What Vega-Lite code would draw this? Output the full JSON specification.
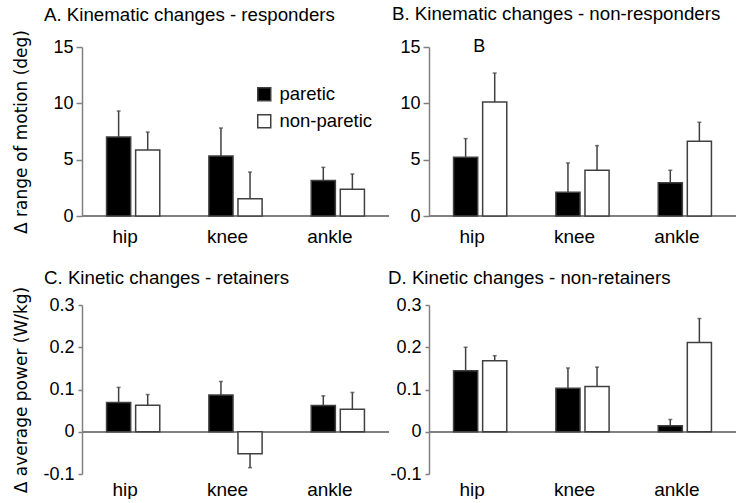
{
  "$schema": "https://vega.github.io/schema/vega-lite/v6.json",
  "padding": {"left": 11, "top": 5, "right": 0, "bottom": 0},
  "background": "white",
  "datasets": {
    "d": [
      {"panel": "A", "joint": "hip", "side": "paretic", "value": 7.01, "err": 9.32},
      {"panel": "A", "joint": "hip", "side": "non-paretic", "value": 5.86, "err": 7.45},
      {"panel": "A", "joint": "knee", "side": "paretic", "value": 5.32, "err": 7.81},
      {"panel": "A", "joint": "knee", "side": "non-paretic", "value": 1.54, "err": 3.9},
      {"panel": "A", "joint": "ankle", "side": "paretic", "value": 3.14, "err": 4.32},
      {"panel": "A", "joint": "ankle", "side": "non-paretic", "value": 2.37, "err": 3.73},
      {"panel": "B", "joint": "hip", "side": "paretic", "value": 5.21, "err": 6.87},
      {"panel": "B", "joint": "hip", "side": "non-paretic", "value": 10.12, "err": 12.69},
      {"panel": "B", "joint": "knee", "side": "paretic", "value": 2.1, "err": 4.71},
      {"panel": "B", "joint": "knee", "side": "non-paretic", "value": 4.06, "err": 6.25},
      {"panel": "B", "joint": "ankle", "side": "paretic", "value": 2.96, "err": 4.06},
      {"panel": "B", "joint": "ankle", "side": "non-paretic", "value": 6.63, "err": 8.32},
      {"panel": "C", "joint": "hip", "side": "paretic", "value": 0.069, "err": 0.105},
      {"panel": "C", "joint": "hip", "side": "non-paretic", "value": 0.063, "err": 0.088},
      {"panel": "C", "joint": "knee", "side": "paretic", "value": 0.087, "err": 0.119},
      {"panel": "C", "joint": "knee", "side": "non-paretic", "value": -0.052, "err": -0.085},
      {"panel": "C", "joint": "ankle", "side": "paretic", "value": 0.062, "err": 0.085},
      {"panel": "C", "joint": "ankle", "side": "non-paretic", "value": 0.053, "err": 0.093},
      {"panel": "D", "joint": "hip", "side": "paretic", "value": 0.1445, "err": 0.2},
      {"panel": "D", "joint": "hip", "side": "non-paretic", "value": 0.168, "err": 0.18},
      {"panel": "D", "joint": "knee", "side": "paretic", "value": 0.103, "err": 0.151},
      {"panel": "D", "joint": "knee", "side": "non-paretic", "value": 0.107, "err": 0.153},
      {"panel": "D", "joint": "ankle", "side": "paretic", "value": 0.014, "err": 0.029},
      {"panel": "D", "joint": "ankle", "side": "non-paretic", "value": 0.211, "err": 0.268}
    ]
  },
  "data": {"name": "d"},
  "columns": 2,
  "spacing": {"row": 89, "column": 40},
  "bounds": "flush",
  "resolve": {"scale": {"fill": "independent"}, "legend": {"fill": "independent"}},
  "concat": [
    {
      "width": 307, "height": 169,
      "transform": [{"filter": "datum.panel === 'A'"}],
      "title": {"text": "A. Kinematic changes - responders", "dx": -38, "offset": -10.3, "baseline": "alphabetic"},
      "layer": [
        {
          "mark": {"type": "rule", "color": "#808080", "strokeWidth": 1.5},
          "encoding": {"y": {"datum": 0, "type": "quantitative", "scale": {"domain": [0, 15], "nice": false}}}
        },
        {
          "mark": {"type": "bar", "stroke": "#404040", "strokeWidth": 1.5},
          "encoding": {
            "x": {"field": "joint", "type": "nominal", "sort": ["hip", "knee", "ankle"], "scale": {"paddingInner": 0.48, "paddingOuter": 0.24},
                  "axis": {"title": null, "domain": false, "ticks": false, "labelAngle": 0, "labelPadding": 11, "labelOffset": -8, "labelFontSize": 19}},
            "xOffset": {"field": "side", "type": "nominal", "sort": ["paretic", "non-paretic"], "scale": {"paddingInner": 0.17, "paddingOuter": 0}},
            "y": {"field": "value", "type": "quantitative", "scale": {"domain": [0, 15], "nice": false},
                  "axis": {"values": [0, 5, 10, 15], "title": "Δ range of motion (deg)", "titleX": -56, "titleBaseline": "alphabetic", "tickSize": 6, "labelPadding": 3}},
            "fill": {"field": "side", "type": "nominal", "scale": {"domain": ["paretic", "non-paretic"], "range": ["black", "white"]},
                     "legend": {"orient": "none", "legendX": 173, "legendY": 38, "title": null, "symbolType": "square", "symbolSize": 169, "symbolStrokeColor": "#404040", "symbolStrokeWidth": 1.5, "labelFontSize": 18.5, "labelFont": "Liberation Sans", "labelColor": "black", "labelOffset": 6, "rowPadding": 7, "padding": 0}}
          }
        },
        {
          "mark": {"type": "rule", "color": "#404040", "strokeWidth": 1.5},
          "encoding": {
            "x": {"field": "joint", "type": "nominal", "sort": ["hip", "knee", "ankle"]},
            "xOffset": {"field": "side", "type": "nominal", "sort": ["paretic", "non-paretic"]},
            "y": {"field": "value", "type": "quantitative"},
            "y2": {"field": "err"}
          }
        },
        {
          "mark": {"type": "tick", "color": "#404040", "thickness": 1.5, "size": 4},
          "encoding": {
            "x": {"field": "joint", "type": "nominal", "sort": ["hip", "knee", "ankle"]},
            "xOffset": {"field": "side", "type": "nominal", "sort": ["paretic", "non-paretic"]},
            "y": {"field": "err", "type": "quantitative"}
          }
        }
      ]
    },
    {
      "width": 307, "height": 169,
      "transform": [{"filter": "datum.panel === 'B'"}],
      "title": {"text": "B. Kinematic changes - non-responders", "dx": -37, "offset": -1, "baseline": "alphabetic"},
      "layer": [
        {
          "mark": {"type": "rule", "color": "#808080", "strokeWidth": 1.5},
          "encoding": {"y": {"datum": 0, "type": "quantitative", "scale": {"domain": [0, 15], "nice": false}}}
        },
        {
          "mark": {"type": "bar", "stroke": "#404040", "strokeWidth": 1.5},
          "encoding": {
            "x": {"field": "joint", "type": "nominal", "sort": ["hip", "knee", "ankle"], "scale": {"paddingInner": 0.48, "paddingOuter": 0.24},
                  "axis": {"title": null, "domain": false, "ticks": false, "labelAngle": 0, "labelPadding": 11, "labelOffset": -8, "labelFontSize": 19}},
            "xOffset": {"field": "side", "type": "nominal", "sort": ["paretic", "non-paretic"], "scale": {"paddingInner": 0.17, "paddingOuter": 0}},
            "y": {"field": "value", "type": "quantitative", "scale": {"domain": [0, 15], "nice": false},
                  "axis": {"values": [0, 5, 10, 15], "title": null, "tickSize": 6, "labelPadding": 3}},
            "fill": {"field": "side", "type": "nominal", "scale": {"domain": ["paretic", "non-paretic"], "range": ["black", "white"]}, "legend": null}
          }
        },
        {
          "mark": {"type": "rule", "color": "#404040", "strokeWidth": 1.5},
          "encoding": {
            "x": {"field": "joint", "type": "nominal", "sort": ["hip", "knee", "ankle"]},
            "xOffset": {"field": "side", "type": "nominal", "sort": ["paretic", "non-paretic"]},
            "y": {"field": "value", "type": "quantitative"},
            "y2": {"field": "err"}
          }
        },
        {
          "mark": {"type": "tick", "color": "#404040", "thickness": 1.5, "size": 4},
          "encoding": {
            "x": {"field": "joint", "type": "nominal", "sort": ["hip", "knee", "ankle"]},
            "xOffset": {"field": "side", "type": "nominal", "sort": ["paretic", "non-paretic"]},
            "y": {"field": "err", "type": "quantitative"}
          }
        },
        {
          "transform": [{"filter": "datum.joint === 'hip' && datum.side === 'paretic'"}],
          "mark": {"type": "text", "text": "B", "fontSize": 18, "font": "Liberation Sans", "color": "black", "baseline": "middle", "align": "center", "dx": -1, "dy": 0},
          "encoding": {
            "x": {"datum": "hip", "type": "nominal"},
            "y": {"datum": 15, "type": "quantitative"}
          }
        }
      ]
    },
    {
      "width": 307, "height": 169,
      "transform": [{"filter": "datum.panel === 'C'"}],
      "title": {"text": "C. Kinetic changes - retainers", "dx": -38, "offset": -16, "baseline": "alphabetic"},
      "layer": [
        {
          "mark": {"type": "rule", "color": "#808080", "strokeWidth": 1.5},
          "encoding": {"y": {"datum": 0, "type": "quantitative", "scale": {"domain": [-0.1, 0.3], "nice": false}}}
        },
        {
          "mark": {"type": "bar", "stroke": "#404040", "strokeWidth": 1.5},
          "encoding": {
            "x": {"field": "joint", "type": "nominal", "sort": ["hip", "knee", "ankle"], "scale": {"paddingInner": 0.48, "paddingOuter": 0.24},
                  "axis": {"title": null, "domain": false, "ticks": false, "labelAngle": 0, "labelPadding": 6, "labelOffset": -8, "labelFontSize": 19}},
            "xOffset": {"field": "side", "type": "nominal", "sort": ["paretic", "non-paretic"], "scale": {"paddingInner": 0.17, "paddingOuter": 0}},
            "y": {"field": "value", "type": "quantitative", "scale": {"domain": [-0.1, 0.3], "nice": false},
                  "axis": {"values": [-0.1, -0.05, 0, 0.05, 0.1, 0.15, 0.2, 0.25, 0.3], "labelExpr": "abs(datum.value*10 - round(datum.value*10)) < 0.001 ? (datum.value < -0.001 ? '-' + format(-datum.value, '.1~f') : format(abs(datum.value), '.1~f')) : ''", "title": "Δ average power (W/kg)", "titleX": -56, "titleBaseline": "alphabetic", "tickSize": 4, "labelPadding": 4}},
            "fill": {"field": "side", "type": "nominal", "scale": {"domain": ["paretic", "non-paretic"], "range": ["black", "white"]}, "legend": null}
          }
        },
        {
          "mark": {"type": "rule", "color": "#404040", "strokeWidth": 1.5},
          "encoding": {
            "x": {"field": "joint", "type": "nominal", "sort": ["hip", "knee", "ankle"]},
            "xOffset": {"field": "side", "type": "nominal", "sort": ["paretic", "non-paretic"]},
            "y": {"field": "value", "type": "quantitative"},
            "y2": {"field": "err"}
          }
        },
        {
          "mark": {"type": "tick", "color": "#404040", "thickness": 1.5, "size": 4},
          "encoding": {
            "x": {"field": "joint", "type": "nominal", "sort": ["hip", "knee", "ankle"]},
            "xOffset": {"field": "side", "type": "nominal", "sort": ["paretic", "non-paretic"]},
            "y": {"field": "err", "type": "quantitative"}
          }
        }
      ]
    },
    {
      "width": 307, "height": 169,
      "transform": [{"filter": "datum.panel === 'D'"}],
      "title": {"text": "D. Kinetic changes - non-retainers", "dx": -41, "offset": -7, "baseline": "alphabetic"},
      "layer": [
        {
          "mark": {"type": "rule", "color": "#808080", "strokeWidth": 1.5},
          "encoding": {"y": {"datum": 0, "type": "quantitative", "scale": {"domain": [-0.1, 0.3], "nice": false}}}
        },
        {
          "mark": {"type": "bar", "stroke": "#404040", "strokeWidth": 1.5},
          "encoding": {
            "x": {"field": "joint", "type": "nominal", "sort": ["hip", "knee", "ankle"], "scale": {"paddingInner": 0.48, "paddingOuter": 0.24},
                  "axis": {"title": null, "domain": false, "ticks": false, "labelAngle": 0, "labelPadding": 6, "labelOffset": -8, "labelFontSize": 19}},
            "xOffset": {"field": "side", "type": "nominal", "sort": ["paretic", "non-paretic"], "scale": {"paddingInner": 0.17, "paddingOuter": 0}},
            "y": {"field": "value", "type": "quantitative", "scale": {"domain": [-0.1, 0.3], "nice": false},
                  "axis": {"values": [-0.1, -0.05, 0, 0.05, 0.1, 0.15, 0.2, 0.25, 0.3], "labelExpr": "abs(datum.value*10 - round(datum.value*10)) < 0.001 ? (datum.value < -0.001 ? '-' + format(-datum.value, '.1~f') : format(abs(datum.value), '.1~f')) : ''", "title": null, "tickSize": 4, "labelPadding": 4}},
            "fill": {"field": "side", "type": "nominal", "scale": {"domain": ["paretic", "non-paretic"], "range": ["black", "white"]}, "legend": null}
          }
        },
        {
          "mark": {"type": "rule", "color": "#404040", "strokeWidth": 1.5},
          "encoding": {
            "x": {"field": "joint", "type": "nominal", "sort": ["hip", "knee", "ankle"]},
            "xOffset": {"field": "side", "type": "nominal", "sort": ["paretic", "non-paretic"]},
            "y": {"field": "value", "type": "quantitative"},
            "y2": {"field": "err"}
          }
        },
        {
          "mark": {"type": "tick", "color": "#404040", "thickness": 1.5, "size": 4},
          "encoding": {
            "x": {"field": "joint", "type": "nominal", "sort": ["hip", "knee", "ankle"]},
            "xOffset": {"field": "side", "type": "nominal", "sort": ["paretic", "non-paretic"]},
            "y": {"field": "err", "type": "quantitative"}
          }
        }
      ]
    }
  ],
  "config": {
    "view": {"stroke": null},
    "font": "Liberation Sans",
    "axis": {"grid": false, "domainColor": "#808080", "tickColor": "#808080", "domainWidth": 1.5, "tickWidth": 1.5, "labelFont": "Liberation Sans", "labelFontSize": 18, "labelColor": "black", "titleFont": "DejaVu Sans", "titleFontSize": 17, "titleFontWeight": "normal", "titleColor": "black"},
    "title": {"font": "Liberation Sans", "fontSize": 18.7, "fontWeight": "normal", "color": "black", "anchor": "start", "frame": "group"}
  }
}
